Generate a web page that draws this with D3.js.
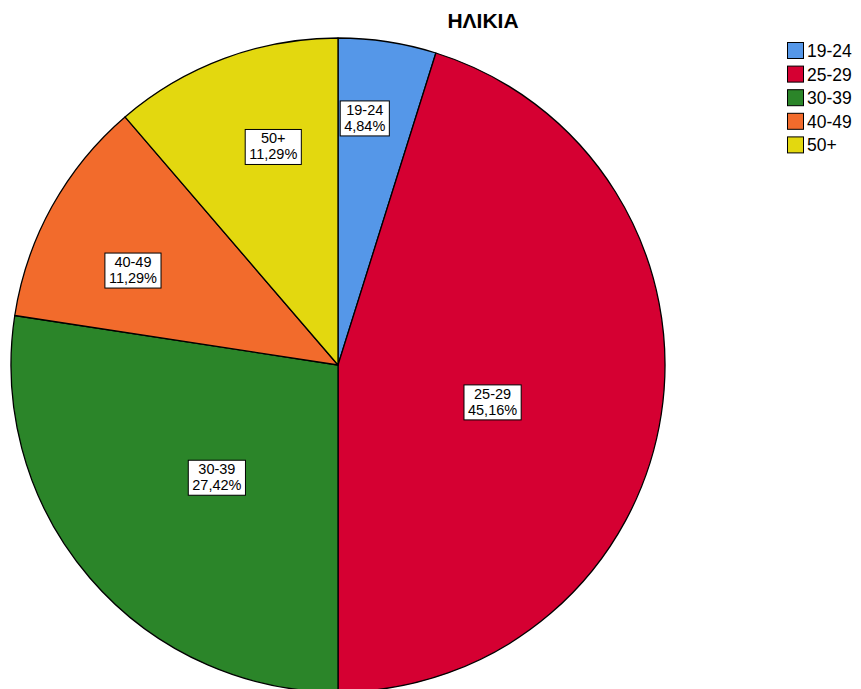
<!DOCTYPE html>
<html><head><meta charset="utf-8">
<script src="https://cdn.jsdelivr.net/npm/d3@7"></script>
<style>body{margin:0;background:#fff}svg{display:block}text{font-family:"Liberation Sans",Arial,sans-serif}</style>
</head><body>
<script>
const categories = ["19-24","25-29","30-39","40-49","50+"];
const counts = [3, 28, 17, 7, 7];
const percentLabels = ["4,84%","45,16%","27,42%","11,29%","11,29%"];
const colors = ["#5597e8","#d50032","#2b8529","#f26b2c","#e3d80f"];
const title = "ΗΛΙΚΙΑ";

const W = 861, H = 689;
const cx = 338, cy = 365, R = 327;
// label placement: [fraction along slice angle, fraction of radius]
const labelPlace = [[0.355,0.76],[0.529,0.486],[0.478,0.505],[0.397,0.691],[0.594,0.697]];

const svg = d3.select("body").append("svg").attr("width", W).attr("height", H);

svg.append("text").attr("x", 483).attr("y", 28).attr("text-anchor","middle")
  .attr("font-size", 21).attr("font-weight","bold").text(title);

const data = categories.map((c,i)=>({cat:c, v:counts[i], pct:percentLabels[i], color:colors[i], i}));
const pie = d3.pie().value(d=>d.v).sort(null);
const arcs = pie(data);
const arc = d3.arc().innerRadius(0).outerRadius(R);

const g = svg.append("g").attr("transform", `translate(${cx},${cy})`);
g.selectAll("path").data(arcs).join("path")
  .attr("d", arc).attr("fill", d=>d.data.color)
  .attr("stroke","#000").attr("stroke-width",1.3).attr("stroke-linejoin","round");

const lg = g.selectAll("g.lab").data(arcs).join("g").attr("class","lab")
  .attr("transform", d=>{
    const p = labelPlace[d.data.i];
    const a = d.startAngle + (d.endAngle - d.startAngle)*p[0];
    const r = R*p[1];
    return `translate(${r*Math.sin(a)},${-r*Math.cos(a)})`;
  });
lg.each(function(d){
  const s = d3.select(this);
  const t1 = s.append("text").attr("text-anchor","middle").attr("font-size",14.5).attr("y",-3).text(d.data.cat);
  const t2 = s.append("text").attr("text-anchor","middle").attr("font-size",14.5).attr("y",13).text(d.data.pct);
  const w = Math.max(t1.node().getComputedTextLength(), t2.node().getComputedTextLength()) + 8;
  s.insert("rect","text").attr("x",-w/2).attr("y",-17).attr("width",w).attr("height",35)
    .attr("fill","#fff").attr("stroke","#000").attr("stroke-width",1);
});

const leg = svg.append("g").attr("transform","translate(787,42)");
const li = leg.selectAll("g").data(data).join("g").attr("transform",(d,i)=>`translate(0,${i*23.6})`);
li.append("rect").attr("x",0.5).attr("y",0.5).attr("width",16).attr("height",16)
  .attr("fill",d=>d.color).attr("stroke","#000").attr("stroke-width",1);
li.append("text").attr("x",20).attr("y",15).attr("font-size",17.5).text(d=>d.cat);
</script>
</body></html>
